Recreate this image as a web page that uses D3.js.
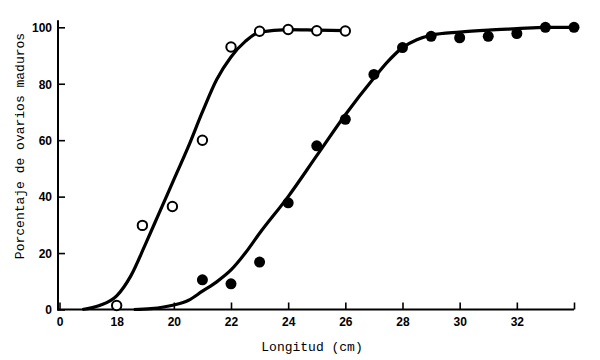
<!DOCTYPE html>
<html><head><meta charset="utf-8">
<script src="https://cdn.jsdelivr.net/npm/d3@7/dist/d3.min.js"></script>
<style>body{margin:0;background:#fff}svg{display:block}</style>
</head><body>
<svg id="chart" width="600" height="360"></svg>
<script>
// Data (x = longitud cm, y = % ovarios maduros)
const openX = [18, 18.9, 19.95, 21, 22, 23, 24, 25, 26];
const openY = [1.4, 29.8, 36.5, 60, 93, 98.6, 99.2, 98.8, 98.7];
const filledX = [21, 22, 23, 24, 25, 26, 27, 28, 29, 30, 31, 32, 33, 34];
const filledY = [10.5, 9.1, 16.8, 37.8, 58, 67.4, 83.3, 92.8, 96.8, 96.3, 96.8, 97.8, 100, 100];
// fitted curves as drawn
const openCurveX = [16.8, 17.4, 18.0, 18.5, 19.0, 19.5, 20.0, 20.5, 21.0, 21.5, 22.0, 22.5, 23.0, 24.0, 25.0, 26.0];
const openCurveY = [0, 1.4, 4.8, 12, 23, 34.5, 46, 57.5, 70, 81.5, 89.5, 95, 98.3, 99.2, 99, 98.8];
const filledCurveX = [18.6, 19.2, 20, 20.5, 21, 21.5, 22, 22.5, 23, 24, 25, 26, 27, 27.5, 28, 28.5, 29, 30, 31, 32, 33, 34];
const filledCurveY = [0, 0.3, 1.6, 3.2, 6.5, 9.8, 14, 20, 27, 40, 54.5, 69, 82, 88, 92.8, 95.6, 97.2, 98.3, 99, 99.5, 100, 100];
const xTicks = [16, 18, 20, 22, 24, 26, 28, 30, 32, 34];
const xTickLabels = ["0", "18", "20", "22", "24", "26", "28", "30", "32", ""];
const yTicks = [0, 20, 40, 60, 80, 100];
const xTitle = "Longitud (cm)";
const yTitle = "Porcentaje de ovarios maduros";

const svg = d3.select("#chart");
const x = d3.scaleLinear().domain([16, 34]).range([59.5, 574]);
const y = d3.scaleLinear().domain([0, 100]).range([309.5, 27.3]);

const tickFont = "'Liberation Sans', Arial, sans-serif";
const titleFont = "'Liberation Mono', 'DejaVu Sans Mono', monospace";

// axes
const xAxis = d3.axisBottom(x).tickValues(xTicks)
  .tickFormat((d, i) => xTickLabels[i]).tickSizeInner(-7).tickSizeOuter(0).tickPadding(8);
const gx = svg.append("g").attr("transform", `translate(0,${y(0)})`).call(xAxis);
gx.select(".domain").remove();
gx.selectAll(".tick line").attr("stroke", "#000").attr("stroke-width", 1.6);
gx.selectAll(".tick text").attr("font-family", tickFont).attr("font-weight", "bold")
  .attr("font-size", 12).attr("fill", "#000");

const yAxis = d3.axisLeft(y).tickValues(yTicks).tickSizeInner(-7).tickSizeOuter(0).tickPadding(6);
const gy = svg.append("g").attr("transform", `translate(${x(16) - 1.5},0)`).call(yAxis);
gy.select(".domain").remove();
gy.selectAll(".tick line").attr("stroke", "#000").attr("stroke-width", 1.6);
gy.selectAll(".tick text").attr("font-family", tickFont).attr("font-weight", "bold")
  .attr("font-size", 12).attr("fill", "#000").attr("dy", "0.36em");

// axis lines
svg.append("line").attr("x1", x(16) - 2.5).attr("x2", x(34))
  .attr("y1", y(0)).attr("y2", y(0)).attr("stroke", "#000").attr("stroke-width", 2);
svg.append("line").attr("x1", x(16) - 1.5).attr("x2", x(16) - 1.5)
  .attr("y1", y(0) + 1).attr("y2", y(102.5)).attr("stroke", "#000").attr("stroke-width", 2);

// curves
const line = d3.line().x(d => x(d[0])).y(d => y(d[1])).curve(d3.curveMonotoneX);
svg.append("path").datum(openCurveX.map((v, i) => [v, openCurveY[i]]))
  .attr("d", line).attr("fill", "none").attr("stroke", "#000").attr("stroke-width", 3.2)
  .attr("stroke-linejoin", "round");
svg.append("path").datum(filledCurveX.map((v, i) => [v, filledCurveY[i]]))
  .attr("d", line).attr("fill", "none").attr("stroke", "#000").attr("stroke-width", 3.2)
  .attr("stroke-linejoin", "round");

// points
svg.append("g").selectAll("circle").data(openX.map((v, i) => [v, openY[i]])).join("circle")
  .attr("cx", d => x(d[0])).attr("cy", d => y(d[1])).attr("r", 4.7)
  .attr("fill", "#fff").attr("stroke", "#000").attr("stroke-width", 2);
svg.append("g").selectAll("circle").data(filledX.map((v, i) => [v, filledY[i]])).join("circle")
  .attr("cx", d => x(d[0])).attr("cy", d => y(d[1])).attr("r", 5.5)
  .attr("fill", "#000");

// titles
svg.append("text").attr("x", 312).attr("y", 351).attr("text-anchor", "middle")
  .attr("font-family", titleFont).attr("font-size", 13).attr("fill", "#000").text(xTitle);
svg.append("text").attr("transform", "translate(24,146) rotate(-90)").attr("text-anchor", "middle")
  .attr("font-family", titleFont).attr("font-size", 13).attr("fill", "#000").text(yTitle);
</script>
</body></html>
